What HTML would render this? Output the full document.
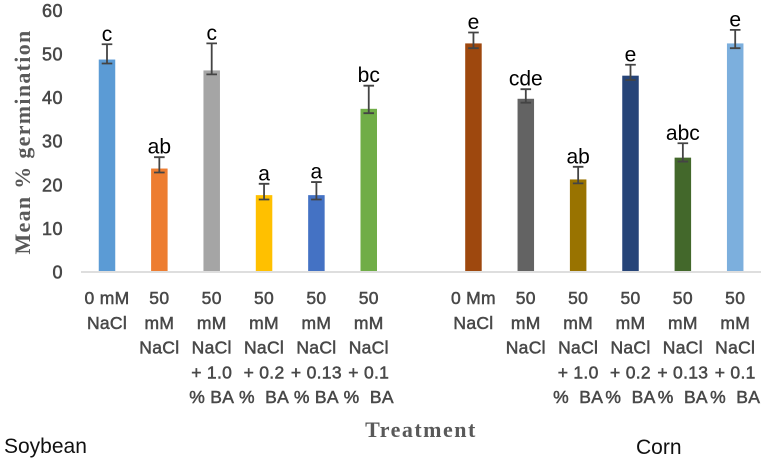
<!DOCTYPE html>
<html>
<head>
<meta charset="utf-8">
<style>
html,body{margin:0;padding:0;background:#fff;}
svg{display:block;}
.tick{font-family:"Liberation Sans",sans-serif;font-size:18px;fill:#484848;stroke:#484848;stroke-width:.55px;letter-spacing:.5px;}
.cat{font-family:"Liberation Sans",sans-serif;font-size:17.5px;fill:#484848;stroke:#484848;stroke-width:.5px;letter-spacing:.3px;}
.sig{font-family:"Liberation Sans",sans-serif;font-size:21px;fill:#000;}
.title{font-family:"Liberation Serif",serif;font-weight:bold;fill:#595959;}
.group{font-family:"Liberation Sans",sans-serif;font-size:21px;fill:#111;}
</style>
</head>
<body>
<svg id="chart" width="765" height="461" viewBox="0 0 765 461" xmlns="http://www.w3.org/2000/svg">
<text class="title" transform="translate(30,142) rotate(-90)" text-anchor="middle" font-size="22" letter-spacing="1.3">Mean % germination</text>
<text class="title" x="421" y="437" text-anchor="middle" font-size="22" letter-spacing="1.5">Treatment</text>
<text class="group" x="4" y="453">Soybean</text>
<text class="group" x="636" y="454">Corn</text>
</svg>
<script>
const categoryLines = [
  ['0 mM', 'NaCl'],
  ['50', 'mM', 'NaCl'],
  ['50', 'mM', 'NaCl', '+ 1.0', '% BA'],
  ['50', 'mM', 'NaCl', '+ 0.2', '%\u00A0 BA'],
  ['50', 'mM', 'NaCl', '+ 0.13', '% BA'],
  ['50', 'mM', 'NaCl', '+ 0.1', '%\u00A0 BA'],
  [],
  ['0 Mm', 'NaCl'],
  ['50', 'mM', 'NaCl'],
  ['50', 'mM', 'NaCl', '+ 1.0', '%\u00A0 BA'],
  ['50', 'mM', 'NaCl', '+ 0.2', '%\u00A0 BA'],
  ['50', 'mM', 'NaCl', '+ 0.13', '%\u00A0 BA'],
  ['50', 'mM', 'NaCl', '+ 0.1', '%\u00A0 BA']
];
const values = [48.5, 23.5, 46, 17.4, 17.4, 37.2, null, 52.2, 39.5, 21, 44.8, 26, 52.2];
const errorHigh = [52, 26.1, 52.2, 20, 20.4, 42.5, null, 54.7, 41.7, 23.9, 47.3, 29.3, 55.3];
const errorLow = [47.6, 22.6, 45.1, 16.4, 16.4, 36.2, null, 51.1, 38.6, 20.1, 43.8, 25.1, 51.1];
const significance = ['c', 'ab', 'c', 'a', 'a', 'bc', '', 'e', 'cde', 'ab', 'e', 'abc', 'e'];
const barColors = ['#5B9BD5', '#ED7D31', '#A5A5A5', '#FFC000', '#4472C4', '#70AD47', '', '#9E480E', '#636363', '#997300', '#264478', '#43682B', '#7CAFDD'];
const yTicks = [0, 10, 20, 30, 40, 50, 60];

const svg = document.getElementById('chart');
const NS = 'http://www.w3.org/2000/svg';
const yScale = v => 271 - v * 4.36;
const xScale = i => 107 + i * 52.35;
const BAR_WIDTH = 16.5;
const CAP_HALF = 5.3;

function make(tag, attrs, parent) {
  const el = document.createElementNS(NS, tag);
  for (const k in attrs) el.setAttribute(k, attrs[k]);
  (parent || svg).appendChild(el);
  return el;
}

yTicks.forEach(t => {
  const el = make('text', {class: 'tick', x: 63, y: yScale(t) + 7.5, 'text-anchor': 'end'});
  
  
  el.textContent = t;
});

const axis = make('line', {x1: 81, x2: 761, y1: 272, y2: 272, stroke: '#d4d4d4', 'stroke-width': 1.6});



values.forEach((v, i) => {
  if (v !== null) {
    const cx = xScale(i);
    const bar = make('rect', {x: cx - BAR_WIDTH / 2, y: yScale(v), width: BAR_WIDTH, height: 271 - yScale(v), fill: barColors[i]});
    
    

    const hi = yScale(errorHigh[i]);
    const lo = yScale(errorLow[i]);
    const err = make('path', {
      d: 'M' + (cx - CAP_HALF) + ' ' + hi + 'H' + (cx + CAP_HALF) +
         'M' + cx + ' ' + hi + 'V' + lo +
         'M' + (cx - CAP_HALF) + ' ' + lo + 'H' + (cx + CAP_HALF),
      fill: 'none', stroke: '#444', 'stroke-width': 1.8
    });
    
    

    const sig = make('text', {class: 'sig', x: cx, y: hi - 3.5, 'text-anchor': 'middle'});
    
    
    sig.textContent = significance[i];
  }
  categoryLines[i].forEach((line, j) => {
    const t = make('text', {class: 'cat', x: xScale(i), y: 304 + j * 24.8, 'text-anchor': 'middle'});
    
    
    t.textContent = line;
  });
});
</script>
</body>
</html>
